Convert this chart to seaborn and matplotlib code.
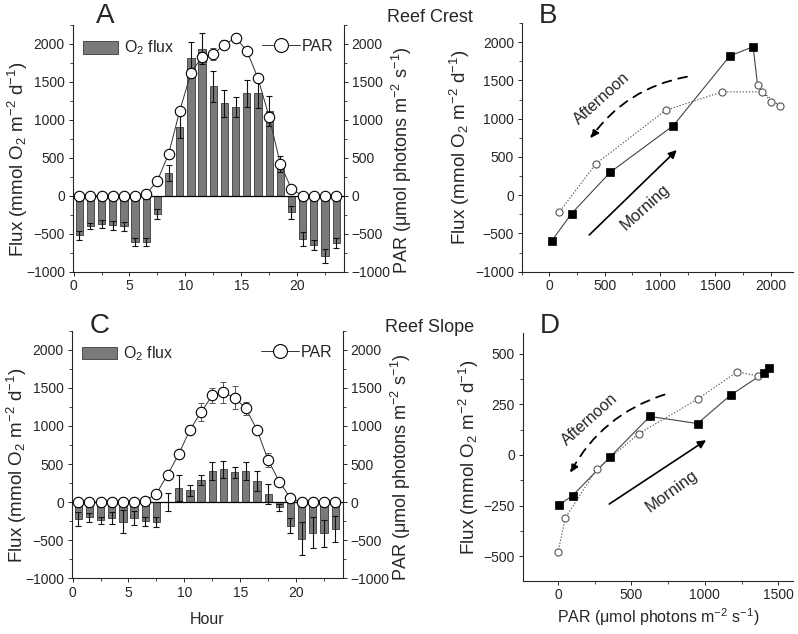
import matplotlib
matplotlib.use('Agg')
import numpy as np
import pandas as pd
import matplotlib.pyplot as plt
import seaborn as sns
from matplotlib.patches import Patch
from matplotlib.lines import Line2D
from matplotlib.ticker import MultipleLocator

# ---------------- data ----------------
hours = [0.5 + i for i in range(24)]

crest_flux = [-520, -400, -370, -390, -400, -610, -610, -240, 300, 910, 1820, 1940,
              1440, 1220, 1170, 1350, 1350, 1120, 420, -220, -570, -650, -790, -620]
crest_flux_err = [60, 40, 50, 60, 60, 50, 50, 70, 110, 150, 210, 200,
                  200, 180, 130, 180, 200, 200, 100, 80, 90, 70, 90, 70]
crest_par = [0, 0, 0, 0, 0, 0, 20, 200, 550, 1120, 1620, 1830,
             1870, 1990, 2080, 1910, 1550, 1040, 420, 90, 0, 0, 0, 0]
crest_par_err = [0, 0, 0, 0, 0, 0, 20, 30, 20, 40, 40, 60,
                 80, 60, 50, 40, 40, 30, 30, 30, 0, 0, 0, 0]

slope_flux = [-220, -200, -240, -210, -260, -210, -250, -260, 0, 190, 155, 290,
              405, 430, 390, 410, 275, 105, -70, -310, -480, -400, -410, -350]
slope_flux_err = [90, 60, 50, 80, 150, 90, 60, 70, 115, 170, 70, 70,
                  120, 110, 70, 120, 130, 130, 50, 100, 220, 200, 180, 170]
slope_par = [0, 0, 0, 0, 0, 0, 20, 110, 360, 630, 950, 1180,
             1400, 1440, 1370, 1230, 950, 550, 270, 50, 0, 0, 0, 0]
slope_par_err = [0, 0, 0, 0, 0, 0, 10, 20, 30, 50, 60, 120,
                 100, 140, 150, 90, 50, 90, 20, 20, 0, 0, 0, 0]

# P-I curves (panel B: reef crest, panel D: reef slope)
crest_morning_par = [20, 200, 550, 1120, 1630, 1840]
crest_morning_flux = [-600, -240, 300, 910, 1820, 1940]
crest_afternoon_par = [1880, 2000, 2080, 1920, 1560, 1050, 420, 90]
crest_afternoon_flux = [1440, 1220, 1170, 1350, 1350, 1110, 410, -220]

slope_morning_par = [10, 100, 355, 625, 950, 1175, 1405, 1435]
slope_morning_flux = [-245, -200, -10, 190, 155, 295, 405, 430]
slope_afternoon_par = [1365, 1220, 950, 550, 265, 50, 0]
slope_afternoon_flux = [390, 410, 275, 105, -70, -310, -480]

flux_label = 'Flux (mmol O$_2$ m$^{-2}$ d$^{-1}$)'
par_label = 'PAR (μmol photons m$^{-2}$ s$^{-1}$)'

# ---------------- style ----------------
sns.set_style('ticks')
plt.rcParams['font.family'] = ['Liberation Sans', 'DejaVu Sans']
plt.rcParams['mathtext.fontset'] = 'custom'
plt.rcParams['mathtext.rm'] = 'Liberation Sans'
plt.rcParams['mathtext.it'] = 'Liberation Sans:italic'
plt.rcParams['mathtext.bf'] = 'Liberation Sans:bold'
plt.rcParams['axes.linewidth'] = 0.8
for a in ['xtick', 'ytick']:
    plt.rcParams[f'{a}.major.size'] = 3
    plt.rcParams[f'{a}.minor.size'] = 2
    plt.rcParams[f'{a}.major.width'] = 0.7
    plt.rcParams[f'{a}.minor.width'] = 0.6
    plt.rcParams[f'{a}.major.pad'] = 2.5
    plt.rcParams[f'{a}.minor.pad'] = 2.5

TICK_FS = 10
XLAB_FS = 11.5
YLAB_FS = 13.5
BAR = '#7a7a7a'

W, H = 798, 634
fig = plt.figure(figsize=(W / 100, H / 100), dpi=100)


def px_axes(l, t, r, b):
    return fig.add_axes([l / W, 1 - b / H, (r - l) / W, (b - t) / H])


def fig_text(x, y, s, **kw):
    fig.text(x / W, 1 - y / H, s, ha='center', va='center', **kw)


def bar_panel(ax, flux, ferr, par, perr, show_xlabel):
    df = pd.DataFrame({'Hour': hours, 'Flux': flux})
    sns.barplot(data=df, x='Hour', y='Flux', native_scale=True, width=0.65,
                color=BAR, saturation=1, edgecolor='#3a3a3a', linewidth=0.6,
                errorbar=None, ax=ax)
    ax.errorbar(hours, flux, yerr=ferr, fmt='none', ecolor='#111111',
                elinewidth=0.8, capsize=2.2, capthick=0.8, zorder=3)
    ax.axhline(0, color='black', lw=0.9, zorder=4)
    ax.set_xlim(-0.1, 24.2)
    ax.set_ylim(-1000, 2250)
    ax.xaxis.set_major_locator(MultipleLocator(5))
    ax.xaxis.set_minor_locator(MultipleLocator(2.5))
    ax.yaxis.set_major_locator(MultipleLocator(500))
    ax.yaxis.set_minor_locator(MultipleLocator(250))
    ax.tick_params(labelsize=TICK_FS, which='both', direction='out')
    ax.set_ylabel(flux_label, fontsize=YLAB_FS, labelpad=1)
    ax.yaxis.set_label_coords(-0.155, 0.455)
    ax.set_xlabel('Hour' if show_xlabel else '', fontsize=XLAB_FS, labelpad=9)
    for s in ['top', 'right']:
        ax.spines[s].set_visible(False)

    ax2 = ax.twinx()
    ax2.errorbar(hours, par, yerr=perr, fmt='none', ecolor='#555555',
                 elinewidth=0.7, capsize=2, capthick=0.7, zorder=2)
    sns.lineplot(x=hours, y=par, ax=ax2, color='#333333', lw=0.7, marker='o',
                 markersize=7.5, markerfacecolor='white', markeredgecolor='black',
                 markeredgewidth=0.8, zorder=3)
    ax2.set_ylim(-1000, 2250)
    ax2.set_xlim(-0.1, 24.2)
    ax2.yaxis.set_major_locator(MultipleLocator(500))
    ax2.yaxis.set_minor_locator(MultipleLocator(250))
    ax2.tick_params(labelsize=TICK_FS, which='both', direction='out')
    ax2.set_ylabel(par_label, fontsize=YLAB_FS - 0.5, labelpad=4)
    ax2.yaxis.set_label_coords(1.17, 0.45)
    for s in ['top', 'left', 'bottom']:
        ax2.spines[s].set_visible(False)

    ax.legend(handles=[Patch(facecolor=BAR, edgecolor='#3a3a3a', linewidth=0.6)],
              labels=['O$_2$ flux'], loc='upper left', frameon=False,
              fontsize=XLAB_FS, handlelength=2.2, handleheight=0.85,
              handletextpad=0.4, borderaxespad=0.0, bbox_to_anchor=(0.015, 0.97))
    ax2.legend(handles=[Line2D([], [], color='#333333', lw=0.7, marker='o', markersize=10,
                               markerfacecolor='white', markeredgecolor='black',
                               markeredgewidth=0.8)],
               labels=['PAR'], loc='upper right', frameon=False, fontsize=XLAB_FS,
               handlelength=2.4, handletextpad=0.1, borderaxespad=0.0,
               bbox_to_anchor=(0.985, 0.97))
    return ax2


def pi_panel(ax, mpar, mflux, apar, aflux, xlim, ylim, xmaj, xmin, ymaj, ymin,
             bridge_solid, show_xlabel):
    if bridge_solid:
        sx, sy = mpar + apar[:1], mflux + aflux[:1]
        dx, dy = apar, aflux
    else:
        sx, sy = mpar, mflux
        dx, dy = mpar[-1:] + apar, mflux[-1:] + aflux
    sns.lineplot(x=sx, y=sy, sort=False, estimator=None, ax=ax, color='#444444', lw=0.8)
    sns.lineplot(x=dx, y=dy, sort=False, estimator=None, ax=ax, color='#555555', lw=0.8,
                 linestyle=(0, (1.2, 1.6)))
    sns.scatterplot(x=apar, y=aflux, ax=ax, marker='o', s=26, facecolor='white',
                    edgecolor='#555555', linewidth=0.8, zorder=4)
    sns.scatterplot(x=mpar, y=mflux, ax=ax, marker='s', s=28, color='black',
                    edgecolor='black', linewidth=0.5, zorder=5)
    ax.set_xlim(*xlim)
    ax.set_ylim(*ylim)
    ax.xaxis.set_major_locator(MultipleLocator(xmaj))
    ax.xaxis.set_minor_locator(MultipleLocator(xmin))
    ax.yaxis.set_major_locator(MultipleLocator(ymaj))
    ax.yaxis.set_minor_locator(MultipleLocator(ymin))
    ax.tick_params(labelsize=TICK_FS, which='both', direction='out')
    ax.set_ylabel(flux_label, fontsize=YLAB_FS, labelpad=2)
    ax.set_xlabel(par_label if show_xlabel else '', fontsize=XLAB_FS, labelpad=3)
    for s in ['top', 'right']:
        ax.spines[s].set_visible(False)


axA = px_axes(72.5, 25, 344, 271.7)
bar_panel(axA, crest_flux, crest_flux_err, crest_par, crest_par_err, False)

axC = px_axes(71.5, 330.7, 343, 578.3)
bar_panel(axC, slope_flux, slope_flux_err, slope_par, slope_par_err, True)

axB = px_axes(521.7, 23, 793, 271.7)
pi_panel(axB, crest_morning_par, crest_morning_flux, crest_afternoon_par, crest_afternoon_flux,
         (-250, 2200), (-1000, 2250), 500, 250, 500, 250, True, False)
axB.annotate('', xy=(1150, 590), xytext=(360, -520),
             arrowprops=dict(arrowstyle='-|>', color='black', lw=1.2, mutation_scale=12,
                             shrinkA=0, shrinkB=0))
axB.annotate('', xy=(370, 745), xytext=(1243, 1548),
             arrowprops=dict(arrowstyle='-|>', color='black', lw=1.3, mutation_scale=12,
                             linestyle=(0, (5, 4)), connectionstyle='arc3,rad=0.2',
                             shrinkA=0, shrinkB=0))
axB.text(866, -157, 'Morning', rotation=42, fontsize=12, ha='center', va='center',
         rotation_mode='anchor')
axB.text(475, 1268, 'Afternoon', rotation=42, fontsize=11.5, ha='center', va='center',
         rotation_mode='anchor')

axD = px_axes(522.7, 333.3, 793, 580.7)
pi_panel(axD, slope_morning_par, slope_morning_flux, slope_afternoon_par, slope_afternoon_flux,
         (-240, 1600), (-620, 600), 500, 250, 250, 125, False, True)
axD.annotate('', xy=(1008, 73), xytext=(349, -242),
             arrowprops=dict(arrowstyle='-|>', color='black', lw=1.2, mutation_scale=12,
                             shrinkA=0, shrinkB=0))
axD.annotate('', xy=(83, -88), xytext=(726, 298),
             arrowprops=dict(arrowstyle='-|>', color='black', lw=1.3, mutation_scale=12,
                             linestyle=(0, (5, 4)), connectionstyle='arc3,rad=0.2',
                             shrinkA=0, shrinkB=0))
axD.text(771, -177, 'Morning', rotation=36, fontsize=12, ha='center', va='center',
         rotation_mode='anchor')
axD.text(218, 177, 'Afternoon', rotation=42, fontsize=11.5, ha='center', va='center',
         rotation_mode='anchor')

# panel letters and site titles
fig_text(105, 16, 'A', fontsize=20)
fig_text(548, 16, 'B', fontsize=20)
fig_text(100, 326, 'C', fontsize=20)
fig_text(550, 326, 'D', fontsize=20)
fig_text(430, 18, 'Reef Crest', fontsize=13)
fig_text(430, 328, 'Reef Slope', fontsize=13)

fig.savefig('out.png', dpi=100)
